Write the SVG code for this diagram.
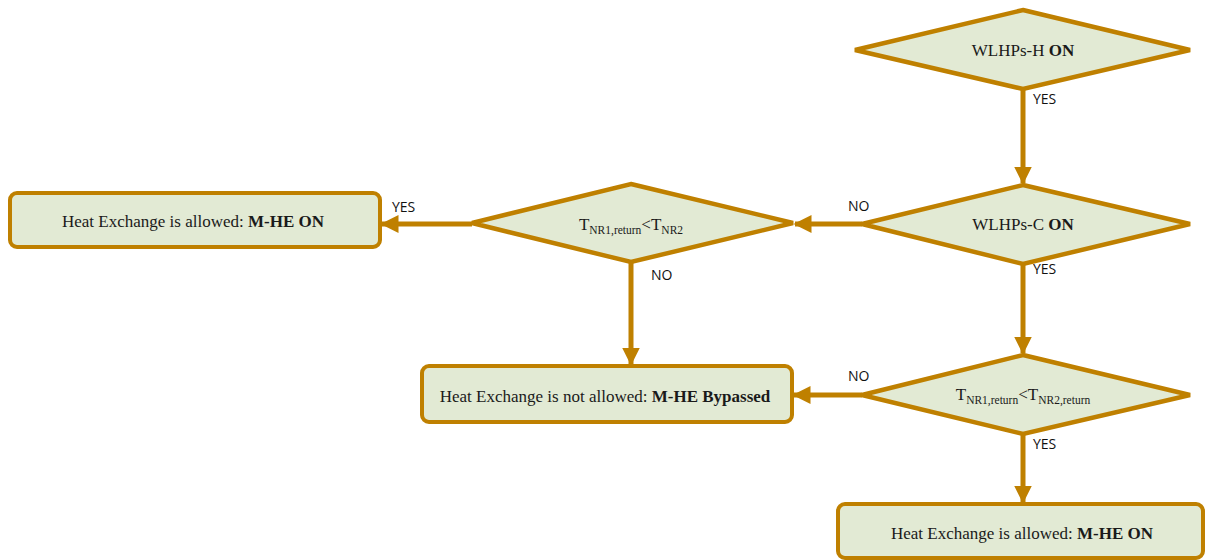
<svg xmlns="http://www.w3.org/2000/svg" width="1205" height="560" viewBox="0 0 1205 560">
<style>
.shape{fill:#E2EAD4;stroke:#BF8000;stroke-width:4.5;stroke-linejoin:miter}
.box{fill:#E2EAD4;stroke:#BF8000;stroke-width:4}
.t{font-family:"Liberation Serif","Times New Roman",serif;font-size:17px;fill:#1a1a1a;text-anchor:middle}
.b{font-weight:bold}
.s{font-size:11.5px}
.lbl{font-family:"Open Sans","Liberation Sans",sans-serif;font-size:14px;fill:#111}
.c{stroke:#BF8000;stroke-width:5;fill:none}
</style>
<defs>
<marker id="ah" markerWidth="4" markerHeight="4" refX="3.3" refY="1.8" orient="auto" markerUnits="strokeWidth">
<path d="M0,0 L3.6,1.8 L0,3.6 z" fill="#BF8000"/>
</marker>
</defs>
<g id="connectors">
<line class="c" x1="1023" y1="89" x2="1023" y2="183" marker-end="url(#ah)"/>
<line class="c" x1="862" y1="224" x2="795" y2="224" marker-end="url(#ah)"/>
<line class="c" x1="472" y1="224" x2="382" y2="224" marker-end="url(#ah)"/>
<line class="c" x1="631" y1="262" x2="631" y2="364" marker-end="url(#ah)"/>
<line class="c" x1="1023" y1="264" x2="1023" y2="353" marker-end="url(#ah)"/>
<line class="c" x1="862" y1="395" x2="794" y2="395" marker-end="url(#ah)"/>
<line class="c" x1="1023" y1="434" x2="1023" y2="502" marker-end="url(#ah)"/>
<text class="lbl" x="1033" y="104">YES</text>
<text class="lbl" x="848" y="211">NO</text>
<text class="lbl" x="392" y="212">YES</text>
<text class="lbl" x="1033" y="274">YES</text>
<text class="lbl" x="651" y="280">NO</text>
<text class="lbl" x="848" y="381">NO</text>
<text class="lbl" x="1033" y="449">YES</text>
</g>
<g id="d1">
<polygon class="shape" points="1023,10 1190,50 1023,89 855,50"/>
<text class="t" x="1023" y="56">WLHPs-H <tspan class="b">ON</tspan></text>
</g>
<g id="d2">
<polygon class="shape" points="1023,185 1190,224 1023,264 862,224"/>
<text class="t" x="1023" y="230">WLHPs-C <tspan class="b">ON</tspan></text>
</g>
<g id="d3">
<polygon class="shape" points="631,184 793,223 631,262 472,223"/>
<text class="t" x="631" y="230">T<tspan class="s" dy="4">NR1,return</tspan><tspan dy="-4">&lt;T</tspan><tspan class="s" dy="4">NR2</tspan></text>
</g>
<g id="d4">
<polygon class="shape" points="1023,355 1190,395 1023,434 862,395"/>
<text class="t" x="1023" y="400">T<tspan class="s" dy="4">NR1,return</tspan><tspan dy="-4">&lt;T</tspan><tspan class="s" dy="4">NR2,return</tspan></text>
</g>
<g id="b1">
<rect class="box" x="10" y="193" width="370" height="54" rx="7"/>
<text class="t" x="193" y="227">Heat Exchange is allowed: <tspan class="b">M-HE ON</tspan></text>
</g>
<g id="b2">
<rect class="box" x="422" y="366" width="370" height="56" rx="7"/>
<text class="t" x="605" y="402">Heat Exchange is not allowed:  <tspan class="b">M-HE Bypassed</tspan></text>
</g>
<g id="b3">
<rect class="box" x="838" y="504" width="365" height="54" rx="7"/>
<text class="t" x="1022" y="539">Heat Exchange is allowed: <tspan class="b">M-HE ON</tspan></text>
</g>
</svg>
